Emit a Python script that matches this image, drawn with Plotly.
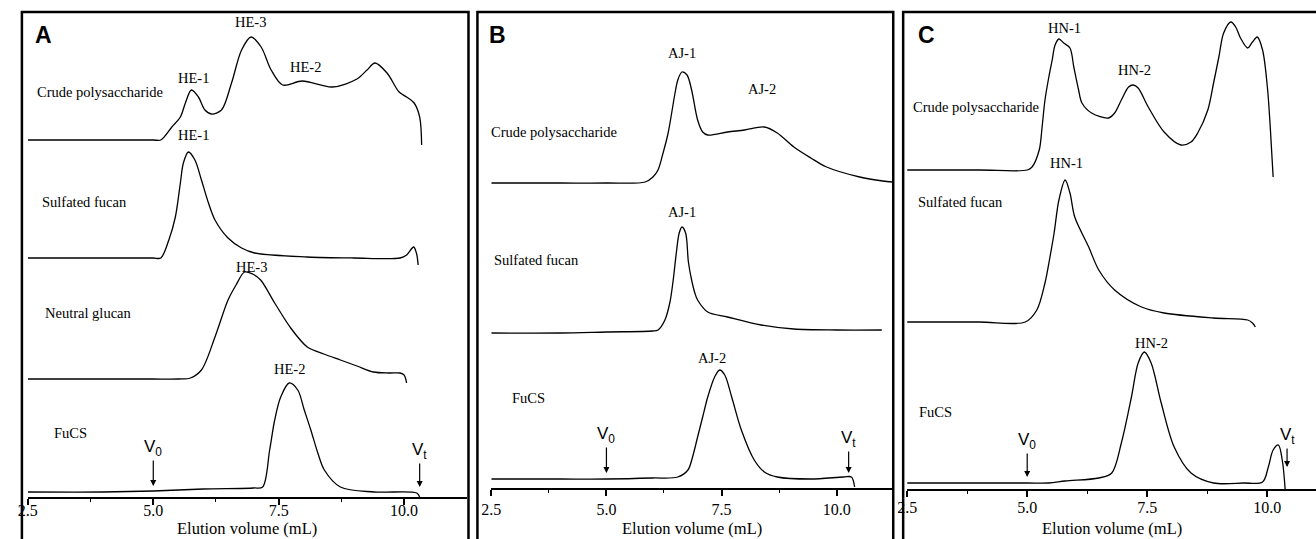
import plotly.graph_objects as go

W, H = 1316, 539

# ------------------------------------------------------------------
# DATA  (elution volume in mL, detector signal in arbitrary units,
#        each signal measured above its own baseline)
# ------------------------------------------------------------------
tick_vals = [2.5, 5.0, 7.5, 10.0]
tick_text = ["2.5", "5.0", "7.5", "10.0"]
minor_vals = [3.75, 6.25, 8.75, 11.25]

# Panel A
A_crude_x = [2.5, 3.5, 4.5, 5.0, 5.15, 5.37, 5.54, 5.64, 5.76, 5.9, 6.03, 6.16, 6.36, 6.56, 6.76,
             6.95, 7.15, 7.35, 7.58, 7.97, 8.57, 9.06, 9.26, 9.42, 9.66, 9.9, 10.05, 10.2, 10.31, 10.35]
A_crude_y = [0, 0, 0, 0, 0, 13, 23, 37, 50, 43, 30, 26, 30, 57, 90,
             103, 93, 70, 55, 59, 53, 61, 70, 77, 67, 48, 43, 37, 23, -5]

A_fucan_x = [2.5, 3.5, 4.5, 5.0, 5.15, 5.31, 5.44, 5.54, 5.6, 5.7, 5.83, 5.96, 6.1, 6.23, 6.49,
             6.76, 7.02, 8.07, 9.0, 9.92, 10.05, 10.19, 10.25, 10.28]
A_fucan_y = [0, 0, 0, 0, 0, 18, 41, 75, 95, 106, 98, 78, 55, 38, 20,
             10, 5, 1, 0, 0, 3, 11, 4, -7]

A_glucan_x = [2.5, 3.5, 4.5, 5.0, 5.5, 5.74, 5.96, 6.23, 6.49, 6.65, 6.82, 6.98, 7.14, 7.42, 7.74,
              8.07, 8.4, 8.73, 9.06, 9.39, 9.7, 9.92, 10.0, 10.05]
A_glucan_y = [0, 0, 0, 0, 0, 1, 9, 42, 79, 94, 107, 105, 99, 76, 51,
              32, 25, 19, 13, 7, 6, 6, 4, -4]

A_fucs_x = [2.5, 4.0, 5.0, 6.0, 7.0, 7.18, 7.32, 7.42, 7.54, 7.71, 7.88, 8.01, 8.14, 8.28, 8.41,
            8.73, 9.4, 10.25, 10.31]
A_fucs_y = [0, 0, 1, 3, 4, 5, 42, 72, 95, 109, 102, 82, 62, 39, 22,
            5, 0, -1, -5]

# Panel B
B_crude_x = [2.5, 4.0, 5.0, 5.84, 6.01, 6.12, 6.23, 6.34, 6.49, 6.55, 6.64, 6.75, 6.85, 6.98, 7.09,
             7.2, 7.63, 8.0, 8.43, 8.71, 9.07, 9.44, 9.78, 10.5, 11.0, 11.21]
B_crude_y = [0, 0, 0, 1, 6, 13, 30, 50, 90, 103, 111, 108, 93, 63, 51,
             48, 51, 53, 56, 50, 36, 25, 16, 6, 2, 1]

B_fucan_x = [2.5, 4.0, 5.0, 6.0, 6.12, 6.27, 6.38, 6.45, 6.52, 6.58, 6.64, 6.72, 6.78, 6.85, 6.92,
             6.98, 7.2, 7.63, 8.36, 9.07, 10.0, 10.98]
B_fucan_y = [-1, -1, 0, 1, 2, 12, 30, 52, 80, 99, 105, 99, 70, 52, 39,
             32, 20, 15, 7, 3, 2, 2]

B_fucs_x = [2.5, 4.0, 5.0, 6.0, 6.55, 6.77, 6.87, 6.98, 7.09, 7.2, 7.35, 7.46, 7.57, 7.72, 7.93,
            8.21, 8.43, 8.71, 9.44, 10.15, 10.32, 10.39]
B_fucs_y = [0, 0, 0, 1, 2, 9, 22, 42, 62, 82, 102, 109, 104, 82, 49,
            19, 7, 2, 0, 2, 2, -8]

# Panel C
C_crude_x = [2.5, 4.0, 5.0, 5.1, 5.25, 5.31, 5.37, 5.45, 5.52, 5.58, 5.66, 5.76, 5.89, 5.97, 6.07,
             6.14, 6.34, 6.69, 6.82, 6.96, 7.11, 7.21, 7.31, 7.52, 7.85, 8.2, 8.41, 8.55, 8.76, 8.88,
             8.99, 9.09, 9.24, 9.34, 9.44, 9.59, 9.69, 9.79, 9.9, 10.0, 10.06, 10.12]
C_crude_y = [0, 0, 0, 3, 20, 43, 70, 93, 110, 125, 131, 127, 122, 103, 80,
             67, 57, 52, 57, 70, 83, 85, 82, 63, 38, 25, 28, 37, 60, 87,
             113, 137, 148, 143, 132, 122, 128, 133, 120, 83, 43, -7]

C_fucan_x = [2.5, 4.0, 4.96, 5.2, 5.37, 5.47, 5.56, 5.66, 5.79, 5.89, 5.99, 6.28, 6.49, 6.82, 7.38,
             7.85, 8.88, 9.59, 9.69, 9.75]
C_fucan_y = [0, 0, 0, 12, 39, 64, 89, 122, 142, 129, 105, 75, 52, 32, 15,
             9, 4, 2, -1, -5]

C_fucs_x = [2.5, 4.0, 5.0, 5.45, 5.79, 6.49, 6.76, 6.96, 7.17, 7.31, 7.44, 7.58, 7.79, 8.06, 8.41,
            8.88, 9.5, 9.9, 10.02, 10.12, 10.23, 10.31, 10.37]
C_fucs_y = [0, 0, 0, 0, 2, 5, 10, 40, 86, 120, 131, 120, 80, 36, 10,
            0, 0, 1, 16, 33, 38, 23, -6]

sample_names = ["Crude polysaccharide", "Sulfated fucan", "Neutral glucan", "FuCS"]
axis_title = "Elution volume (mL)"

# ------------------------------------------------------------------
# LAYOUT GEOMETRY (pixels in the 1316x539 canvas)
# ------------------------------------------------------------------
def P(xp, yp):
    return xp / W, 1 - yp / H

panels = [
    dict(name="A", xa="x", ya="y", x0=18, ppu=50.55, xend=460, yaxis=497, fx0=12, fx1=462, lab=511),
    dict(name="B", xa="x2", ya="y2", x0=485, ppu=46.4, xend=889, yaxis=488, fx0=471, fx1=890, lab=510),
    dict(name="C", xa="x3", ya="y3", x0=904, ppu=48.4, xend=1316, yaxis=489, fx0=900, fx1=1340, lab=508),
]
TOP = 12

traces = [
    (0, A_crude_x, A_crude_y, 357),
    (0, A_fucan_x, A_fucan_y, 239),
    (0, A_glucan_x, A_glucan_y, 118),
    (0, A_fucs_x, A_fucs_y, 5),
    (1, B_crude_x, B_crude_y, 305),
    (1, B_fucan_x, B_fucan_y, 156),
    (1, B_fucs_x, B_fucs_y, 9),
    (2, C_crude_x, C_crude_y, 319),
    (2, C_fucan_x, C_fucan_y, 167),
    (2, C_fucs_x, C_fucs_y, 6),
]

fig = go.Figure()
for pi, xs, ys, off in traces:
    p = panels[pi]
    fig.add_trace(go.Scatter(
        x=xs, y=[v + off for v in ys], mode="lines",
        line=dict(color="black", width=1.3, shape="spline", smoothing=0.9),
        xaxis=p["xa"], yaxis=p["ya"], showlegend=False, hoverinfo="skip"))

layout = dict(width=W, height=H, margin=dict(l=0, r=0, t=0, b=0),
              paper_bgcolor="white", plot_bgcolor="rgba(0,0,0,0)", showlegend=False)
serif = "Liberation Serif"
sans = "Liberation Sans"

for i, p in enumerate(panels):
    suffix = "" if i == 0 else str(i + 1)
    xmax = 2.5 + (p["xend"] - p["x0"]) / p["ppu"]
    layout["xaxis" + suffix] = dict(
        domain=[p["x0"] / W, p["xend"] / W], range=[2.5, xmax], anchor=p["ya"],
        showline=True, linecolor="black", linewidth=2, showgrid=False, zeroline=False,
        tickmode="array", tickvals=tick_vals, ticktext=tick_text,
        ticks="outside", ticklen=6, tickwidth=1.5, tickcolor="black",
        minor=dict(tickmode="array", tickvals=minor_vals, ticks="outside", ticklen=3,
                   tickwidth=1.2, tickcolor="black"),
        tickfont=dict(family=serif, size=16, color="black"),
        ticklabelstandoff=p["lab"] - p["yaxis"] - 22,
        fixedrange=True)
    layout["yaxis" + suffix] = dict(
        domain=[1 - p["yaxis"] / H, 1 - TOP / H], range=[0, p["yaxis"] - TOP],
        visible=False, fixedrange=True, anchor=p["xa"])

fig.update_layout(**layout)

for p in panels:
    fig.add_shape(type="rect", xref="paper", yref="paper",
                  x0=p["fx0"] / W, x1=p["fx1"] / W, y0=1 - 600 / H, y1=1 - TOP / H,
                  line=dict(color="black", width=2.5), fillcolor="rgba(0,0,0,0)")

ann = []
def text(xp, yp, t, size=14.5, family=serif, bold=False):
    x, y = P(xp, yp)
    ann.append(dict(x=x, y=y, xref="paper", yref="paper", text=("<b>%s</b>" % t) if bold else t,
                    showarrow=False, xanchor="center", yanchor="middle",
                    font=dict(family=family, size=size, color="black")))

text(34, 35, "A", size=23, family=sans, bold=True)
text(491, 35, "B", size=23, family=sans, bold=True)
text(924, 35, "C", size=23, family=sans, bold=True)

text(90.5, 92, sample_names[0]); text(75, 202, sample_names[1])
text(79.5, 313, sample_names[2]); text(61, 433, sample_names[3])
text(548.5, 132, sample_names[0]); text(530.5, 260, sample_names[1]); text(522, 398, sample_names[3])
text(973.5, 107, sample_names[0]); text(958, 202, sample_names[1]); text(932.5, 412, sample_names[3])

text(242, 22, "HE-3"); text(185, 78, "HE-1"); text(298, 67, "HE-2")
text(185, 135, "HE-1"); text(243, 267, "HE-3"); text(282, 369, "HE-2")
text(677, 53, "AJ-1"); text(758, 89, "AJ-2"); text(677, 212, "AJ-1"); text(707, 358, "AJ-2")
text(1063, 28, "HN-1"); text(1133, 70, "HN-2"); text(1065, 163, "HN-1"); text(1150, 343, "HN-2")

text(239, 528, axis_title, size=16.5)
text(687, 528, axis_title, size=16.5)
text(1110, 528, axis_title, size=16.5)

markers = [
    (0, 5.0, 11, -38, "V<sub>0</sub>"), (0, 10.31, 10, -36, "V<sub>t</sub>"),
    (1, 5.0, 15, -38, "V<sub>0</sub>"), (1, 10.26, 15, -34, "V<sub>t</sub>"),
    (2, 5.0, 12, -36, "V<sub>0</sub>"), (2, 10.41, 22, -31, "V<sub>t</sub>"),
]
for pi, xv, yv, ay, t in markers:
    p = panels[pi]
    ann.append(dict(x=xv, y=yv, xref=p["xa"], yref=p["ya"], text=t, showarrow=True,
                    arrowhead=2, arrowsize=1, arrowwidth=1.2, arrowcolor="black",
                    ax=0, ay=ay, font=dict(family=sans, size=17, color="black")))

fig.update_layout(annotations=ann)
fig.write_html("out.html", config={"displayModeBar": False},
               post_script="document.body.style.margin='0px';document.body.style.overflow='hidden';")
